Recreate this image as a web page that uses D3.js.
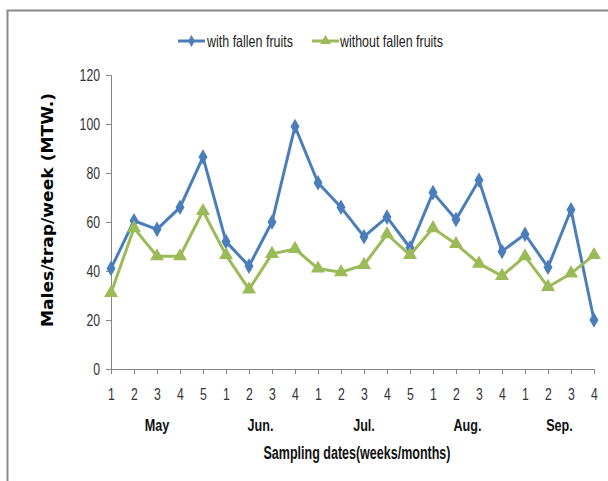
<!DOCTYPE html>
<html>
<head>
<meta charset="utf-8">
<script src="https://cdn.jsdelivr.net/npm/d3@7"></script>
<style>
  body { margin: 0; background: #fff; }
  svg text { font-family: "Liberation Sans", Arial, sans-serif; }
</style>
</head>
<body>
<div id="chart"></div>
<script>
// Week labels and months along the x axis
const weeks = ["1","2","3","4","5","1","2","3","4","1","2","3","4","5","1","2","3","4","1","2","3","4"];
const months = [
    {name: "May", from: 0, to: 4},
    {name: "Jun.", from: 5, to: 8},
    {name: "Jul.", from: 9, to: 13},
    {name: "Aug.", from: 14, to: 17},
    {name: "Sep.", from: 18, to: 21}
];
const withFallen = [41, 60.5, 57, 66, 86.5, 52, 42, 60, 99, 76, 66, 54, 62, 49.5, 72, 61, 77, 48, 55, 41.5, 65, 20];
const withoutFallen = [31, 57.5, 46, 46, 64.5, 46.5, 32.5, 47, 49, 41, 39.5, 42.5, 55, 46.5, 57.5, 51, 43, 38, 46, 33.5, 39, 46.5];
const yTicks = [0, 20, 40, 60, 80, 100, 120];

const series = [
    {name: "with fallen fruits", values: withFallen, color: "#4A7EBB", marker: "diamond"},
    {name: "without fallen fruits", values: withoutFallen, color: "#9BBB59", marker: "triangle"}
];

const width = 608, height = 481;
const svg = d3.select("#chart").append("svg")
    .attr("width", width)
    .attr("height", height);

// squeeze Arial-like text to the narrower look of the original font
function condense(sel, factor) {
    sel.each(function() {
        const len = this.getComputedTextLength();
        d3.select(this)
            .attr("textLength", len * factor)
            .attr("lengthAdjust", "spacingAndGlyphs");
    });
}

// Outer frame (top and left edges visible)
svg.append("path")
    .attr("d", "M7.5,481 V10.5 H608")
    .attr("fill", "none")
    .attr("stroke", "#898989")
    .attr("stroke-width", 2);

const x = d3.scalePoint()
    .domain(d3.range(weeks.length))
    .range([111, 594]);

const y = d3.scaleLinear()
    .domain([0, 120])
    .range([369, 75]);

// Y axis
const yAxis = svg.append("g")
    .attr("transform", "translate(111,0)")
    .call(d3.axisLeft(y).tickValues(yTicks).tickSize(5).tickPadding(6));
yAxis.select(".domain").attr("stroke", "#868686");
yAxis.selectAll(".tick line").attr("stroke", "#868686");
yAxis.selectAll(".tick text")
    .attr("fill", "#333")
    .style("font-size", "17px")
    .call(condense, 0.72);

// X axis
const xAxis = svg.append("g")
    .attr("transform", "translate(0,369)")
    .call(d3.axisBottom(x).tickFormat(i => weeks[i]).tickSize(5).tickPadding(14).tickSizeOuter(0));
xAxis.select(".domain").attr("stroke", "#868686");
xAxis.selectAll(".tick line").attr("stroke", "#868686");
xAxis.selectAll(".tick text")
    .attr("fill", "#333")
    .style("font-size", "17px")
    .call(condense, 0.72);

// Month labels
svg.append("g")
    .selectAll("text")
    .data(months)
    .enter()
    .append("text")
    .attr("x", d => (x(d.from) + x(d.to)) / 2)
    .attr("y", 431)
    .attr("text-anchor", "middle")
    .style("font-size", "17px")
    .style("font-weight", "bold")
    .attr("fill", "#111")
    .text(d => d.name)
    .call(condense, 0.74);

// Axis titles
svg.append("text")
    .attr("x", 357)
    .attr("y", 459)
    .attr("text-anchor", "middle")
    .style("font-size", "17.5px")
    .style("font-weight", "bold")
    .attr("fill", "#111")
    .attr("textLength", 187)
    .attr("lengthAdjust", "spacingAndGlyphs")
    .text("Sampling dates(weeks/months)");

svg.append("text")
    .attr("transform", "translate(53,210) rotate(-90)")
    .attr("text-anchor", "middle")
    .style("font-family", "'DejaVu Sans', Verdana, sans-serif")
    .style("font-size", "15px")
    .style("font-weight", "bold")
    .attr("fill", "#000")
    .attr("textLength", 234)
    .attr("lengthAdjust", "spacingAndGlyphs")
    .text("Males/trap/week (MTW.)");

const diamond = d3.symbol().type(d3.symbolDiamond).size(70);
const triangle = d3.symbol().type(d3.symbolTriangle).size(85);

const line = d3.line()
    .x((d, i) => x(i))
    .y(d => y(d));

// Lines and markers
series.forEach(s => {
    svg.append("path")
        .datum(s.values)
        .attr("d", line)
        .attr("fill", "none")
        .attr("stroke", s.color)
        .attr("stroke-width", 3)
        .attr("stroke-linejoin", "round");

    svg.append("g")
        .selectAll("path")
        .data(s.values)
        .enter()
        .append("path")
        .attr("transform", (d, i) => `translate(${x(i)},${y(d)})`)
        .attr("d", s.marker === "diamond" ? diamond : triangle)
        .attr("fill", s.color);
});

// Legend
const legendItems = [
    {s: series[0], x: 178, tx: 207, len: 86},
    {s: series[1], x: 312, tx: 340, len: 103}
];
legendItems.forEach(l => {
    const g = svg.append("g");
    g.append("line")
        .attr("x1", l.x).attr("x2", l.x + 27)
        .attr("y1", 41).attr("y2", 41)
        .attr("stroke", l.s.color)
        .attr("stroke-width", 3);
    g.append("path")
        .attr("transform", `translate(${l.x + 13.5},41)`)
        .attr("d", l.s.marker === "diamond" ? d3.symbol().type(d3.symbolDiamond).size(40) : d3.symbol().type(d3.symbolTriangle).size(50))
        .attr("fill", l.s.color);
    g.append("text")
        .attr("x", l.tx)
        .attr("y", 47)
        .style("font-size", "16.5px")
        .attr("fill", "#222")
        .attr("textLength", l.len)
        .attr("lengthAdjust", "spacingAndGlyphs")
        .text(l.s.name);
});
</script>
</body>
</html>
